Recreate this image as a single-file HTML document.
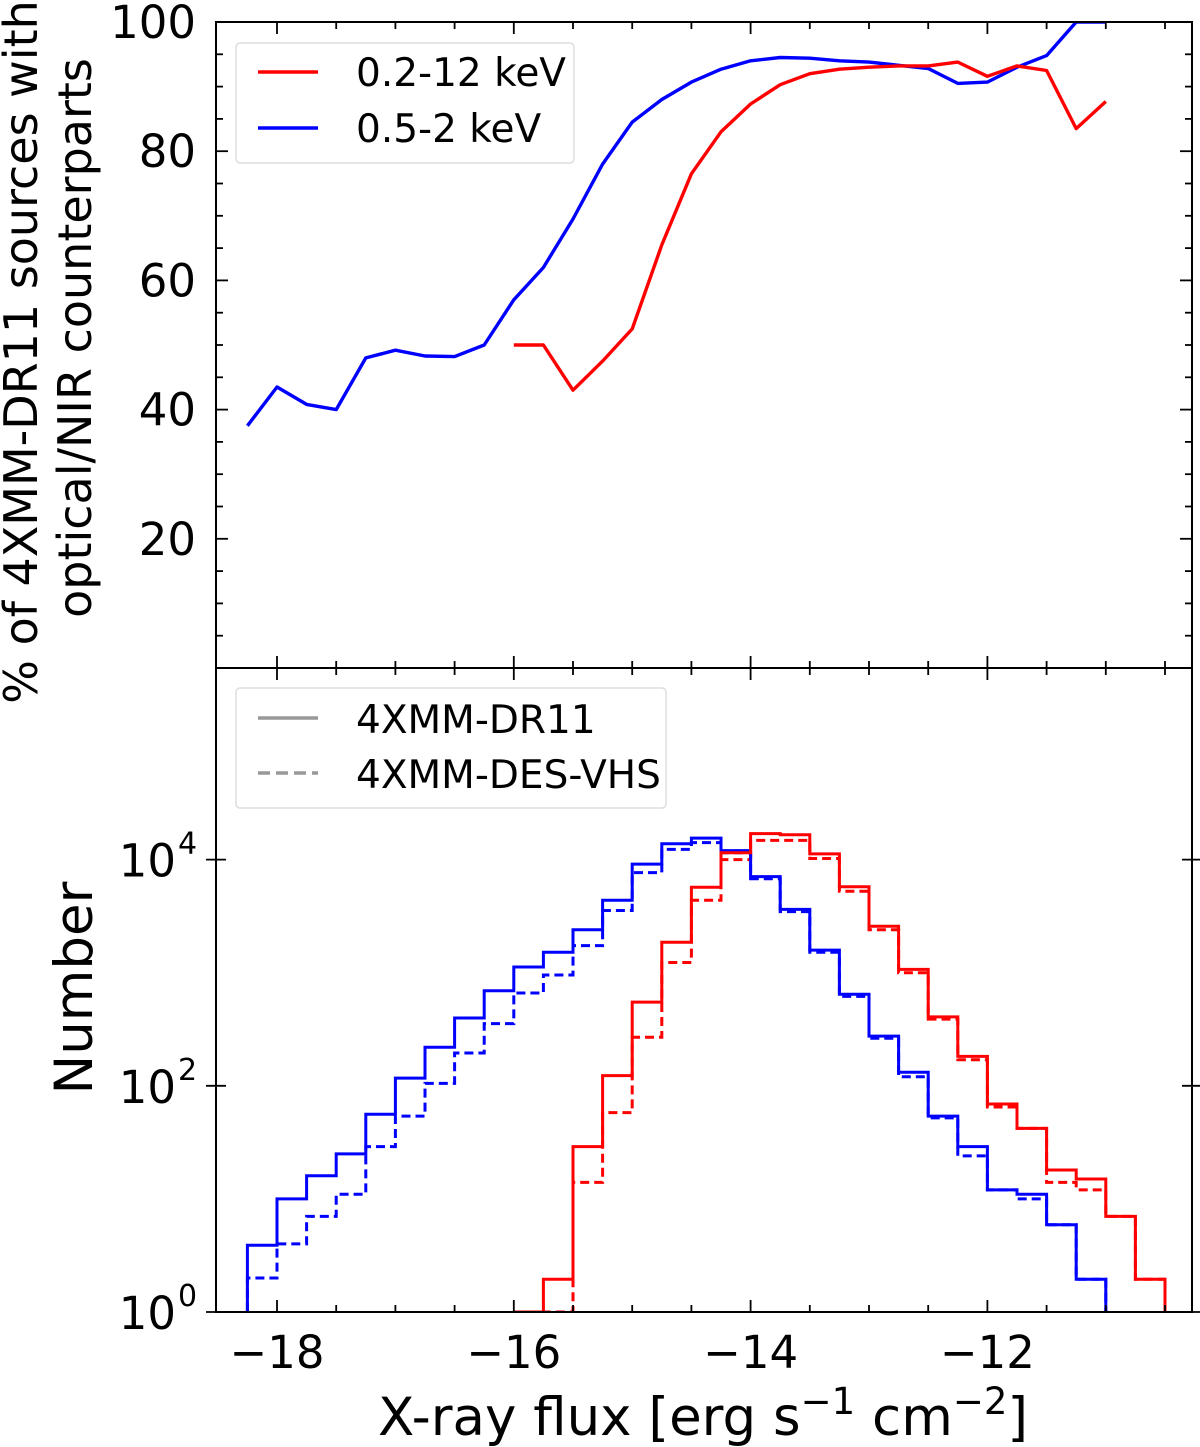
<!DOCTYPE html>
<html><head><meta charset="utf-8">
<style>
html,body{margin:0;padding:0;background:#fff;}
svg{display:block;font-family:"DejaVu Sans","Liberation Sans",sans-serif;}
</style></head>
<body>
<svg id="chart" width="1200" height="1447" viewBox="0 0 1200 1447" xmlns="http://www.w3.org/2000/svg"></svg>
<script>
// ---- data ----
const fracX = [-18.25,-18,-17.75,-17.5,-17.25,-17,-16.75,-16.5,-16.25,-16,-15.75,-15.5,-15.25,-15,-14.75,-14.5,-14.25,-14,-13.75,-13.5,-13.25,-13,-12.75,-12.5,-12.25,-12,-11.75,-11.5,-11.25,-11];
const fracBlue = [37.5,43.5,40.8,40,48,49.2,48.3,48.2,50,57,62,69.5,78,84.5,88,90.7,92.7,94,94.5,94.4,94,93.8,93.3,92.8,90.5,90.7,93,94.8,100,100];
const fracRedX = [-16,-15.75,-15.5,-15.25,-15,-14.75,-14.5,-14.25,-14,-13.75,-13.5,-13.25,-13,-12.75,-12.5,-12.25,-12,-11.75,-11.5,-11.25,-11];
const fracRed = [50,50,43,47.5,52.5,65.5,76.5,83,87.3,90.3,92,92.7,93,93.2,93.2,93.8,91.6,93.2,92.5,83.5,87.7];
const blueStart = -18.25;
const blueSolid = [3.9,10,16,25,56,117,219,398,692,1122,1514,2399,4365,9120,13800,15500,12000,7080,3630,1585,646,275,132,54,29,12,11,5.9,1.95];
const blueDashed = [2,4,7,11,29,54,105,195,355,661,955,1738,3548,7674,12300,14125,11482,6761,3467,1514,617,263,120,52,24,12,10,5.9,1.95];
const redStart = -16;
const redSolid = [1,1.95,29,123,550,1862,5690,11480,16980,16600,11220,5750,2570,1070,407,182,69,42,18,15,7,1.95];
const redDashed = [1,1,14,58,269,1230,4365,10000,14790,14790,10230,5250,2400,1000,389,170,65,42,14,12,7,1.95];
const binW = 0.25;
const xTicks = [-18,-16,-14,-12];
const yTicksTop = [20,40,60,80,100];
const yTicksBot = [0,2,4];

// ---- scales ----
const L=216,R=1192,T1=22,B1=668,T2=668,B2=1312;
const X = v => 277 + (v+18)*118.4;
const Y1 = v => 668 - v*6.46;
const Y2 = c => 1312 - Math.log10(c)*113.1;
const NS="http://www.w3.org/2000/svg";
const svg=document.getElementById('chart');
function mk(tag,attrs,parent){const e=document.createElementNS(NS,tag);for(const k in attrs)e.setAttribute(k,attrs[k]);(parent||svg).appendChild(e);return e;}

const defs=mk('defs',{});
const c1=mk('clipPath',{id:'c1'},defs);mk('rect',{x:L,y:T1,width:R-L,height:B1-T1},c1);
const c2=mk('clipPath',{id:'c2'},defs);mk('rect',{x:L,y:T2,width:R-L,height:B2-T2},c2);

function line(xs,ys,color,name){
  const d=xs.map((x,i)=>(i?'L':'M')+X(x).toFixed(1)+','+Y1(ys[i]).toFixed(1)).join('');
  const p=mk('path',{d:d,fill:'none',stroke:color,'stroke-width':3.4,'stroke-linejoin':'round','clip-path':'url(#c1)'});
  
  
}
line(fracX,fracBlue,'#0000ff','line-soft-band');
line(fracRedX,fracRed,'#ff0000','line-full-band');

function hist(start,vals,color,dash,name){
  let d='M'+X(start).toFixed(1)+','+B2;
  vals.forEach((v,i)=>{const y=Y2(v).toFixed(1);d+='L'+X(start+i*binW).toFixed(1)+','+y+'L'+X(start+(i+1)*binW).toFixed(1)+','+y;});
  d+='L'+X(start+vals.length*binW).toFixed(1)+','+B2;
  const a={d:d,fill:'none',stroke:color,'stroke-width':3,'clip-path':'url(#c2)'};
  if(dash)a['stroke-dasharray']='9,5';
  const p=mk('path',a);
  
  
}
hist(blueStart,blueDashed,'#0000ff',true,'hist-soft-des-vhs');
hist(redStart,redDashed,'#ff0000',true,'hist-full-des-vhs');
hist(blueStart,blueSolid,'#0000ff',false,'hist-soft-dr11');
hist(redStart,redSolid,'#ff0000',false,'hist-full-dr11');

const f1=mk('rect',{x:L,y:T1,width:R-L,height:B1-T1,fill:'none',stroke:'#000','stroke-width':2});

const f2=mk('rect',{x:L,y:T2,width:R-L,height:B2-T2,fill:'none',stroke:'#000','stroke-width':2});


const tk=mk('g',{stroke:'#000','stroke-width':1.8});
for(let v=-18;v<=-10.5;v+=0.5){
  const x=X(v),maj=Number.isInteger(v)&&v%2===0,len=maj?12:7;
  [[T1,1],[B1,-1],[T2,1],[B2,-1]].forEach(([y,s])=>mk('line',{x1:x,x2:x,y1:y,y2:y+s*len},tk));
}
for(let v=5;v<100;v+=5){
  const y=Y1(v),maj=v%20===0,len=maj?12:7;
  mk('line',{x1:L,x2:L+len,y1:y,y2:y},tk);mk('line',{x1:R,x2:R-len,y1:y,y2:y},tk);
}
yTicksBot.forEach(e=>{const y=Y2(Math.pow(10,e));mk('line',{x1:L-10,x2:L+10,y1:y,y2:y},tk);mk('line',{x1:R-10,x2:R+10,y1:y,y2:y},tk);});

xTicks.forEach(v=>{const t=mk('text',{x:X(v),y:1368,'font-size':45,'text-anchor':'middle'});t.textContent='\u2212'+Math.abs(v);
  });
yTicksTop.forEach(v=>{const t=mk('text',{x:196,y:Y1(v)+16,'font-size':45,'text-anchor':'end'});t.textContent=v;
  });
yTicksBot.forEach(e=>{const y=Y2(Math.pow(10,e));const t=mk('text',{x:176,y:y+17,'font-size':45,'text-anchor':'end'});t.textContent='10';
  
  const s=mk('text',{x:178,y:y-6,'font-size':30,'text-anchor':'start'});s.textContent=e;});

const yl1=mk('text',{transform:'translate(37,352) rotate(-90)','font-size':46,'text-anchor':'middle'});yl1.textContent='% of 4XMM-DR11 sources with';

const yl2=mk('text',{transform:'translate(91,338) rotate(-90)','font-size':46,'text-anchor':'middle'});yl2.textContent='optical/NIR counterparts';

const yl3=mk('text',{transform:'translate(92,988) rotate(-90)','font-size':53,'text-anchor':'middle'});yl3.textContent='Number';

const xl=mk('text',{x:703,y:1435,'font-size':53,'text-anchor':'middle'});

xl.innerHTML='X-ray flux [erg s<tspan dy="-21" font-size="37">\u22121</tspan><tspan dy="21"> cm</tspan><tspan dy="-21" font-size="37">\u22122</tspan><tspan dy="21">]</tspan>';

const lg1=mk('g',{});
mk('rect',{x:236,y:43,width:338,height:120,rx:4,fill:'#fff',stroke:'#ddd','stroke-width':1.5},lg1);
mk('line',{x1:258,x2:318,y1:72,y2:72,stroke:'#ff0000','stroke-width':3.4},lg1);
mk('line',{x1:258,x2:318,y1:128,y2:128,stroke:'#0000ff','stroke-width':3.4},lg1);
let t=mk('text',{x:356,y:86,'font-size':39},lg1);t.textContent='0.2-12 keV';
t=mk('text',{x:356,y:142,'font-size':39},lg1);t.textContent='0.5-2 keV';
const lg2=mk('g',{});
mk('rect',{x:236,y:688,width:430,height:120,rx:4,fill:'#fff',stroke:'#ddd','stroke-width':1.5},lg2);
mk('line',{x1:258,x2:318,y1:718,y2:718,stroke:'#999','stroke-width':3.4},lg2);
mk('line',{x1:258,x2:318,y1:773,y2:773,stroke:'#999','stroke-width':3.4,'stroke-dasharray':'12,6'},lg2);
t=mk('text',{x:356,y:733,'font-size':39},lg2);t.textContent='4XMM-DR11';
t=mk('text',{x:356,y:788,'font-size':39},lg2);t.textContent='4XMM-DES-VHS';
</script>
</body></html>
